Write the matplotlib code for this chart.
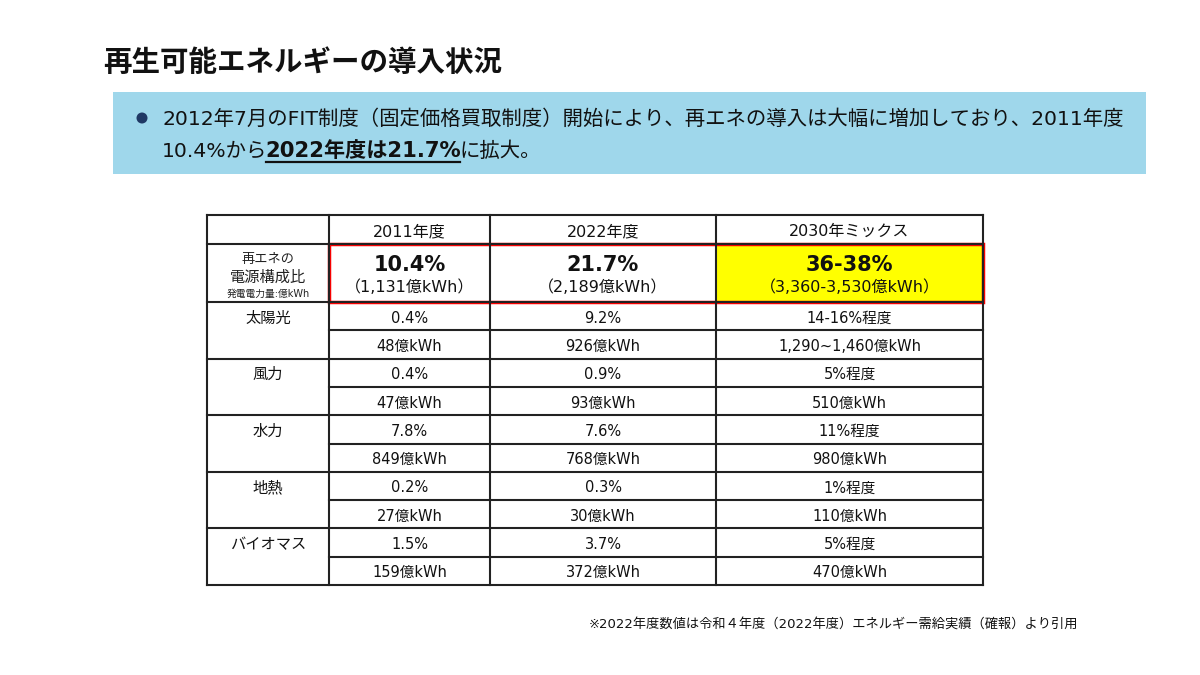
import matplotlib
matplotlib.use("Agg")
import matplotlib.pyplot as plt
from matplotlib.patches import Rectangle, Circle

# DejaVu for latin (wide, like the original), Noto CJK for the Japanese glyphs
plt.rcParams['font.family'] = ['DejaVu Sans', 'Noto Sans CJK JP']

# --- data ---
title = "再生可能エネルギーの導入状況"
summary_line1 = "2012年7月のFIT制度（固定価格買取制度）開始により、再エネの導入は大幅に増加しており、2011年度"
summary_line2 = ["10.4%から", "2022年度は21.7%", "に拡大。"]
footnote = "※2022年度数値は令和４年度（2022年度）エネルギー需給実績（確報）より引用"

years = ["2011年度", "2022年度", "2030年ミックス"]
total_share = ["10.4%", "21.7%", "36-38%"]
total_kwh = ["（1,131億kWh）", "（2,189億kWh）", "（3,360-3,530億kWh）"]
total_label = ["再エネの", "電源構成比", "発電電力量:億kWh"]

sources = ["太陽光", "風力", "水力", "地熱", "バイオマス"]
share_2011 = ["0.4%", "0.4%", "7.8%", "0.2%", "1.5%"]
share_2022 = ["9.2%", "0.9%", "7.6%", "0.3%", "3.7%"]
share_2030 = ["14-16%程度", "5%程度", "11%程度", "1%程度", "5%程度"]
kwh_2011 = ["48億kWh", "47億kWh", "849億kWh", "27億kWh", "159億kWh"]
kwh_2022 = ["926億kWh", "93億kWh", "768億kWh", "30億kWh", "372億kWh"]
kwh_2030 = ["1,290~1,460億kWh", "510億kWh", "980億kWh", "110億kWh", "470億kWh"]

# --- figure in pixel coordinates ---
fig = plt.figure(figsize=(12, 6.75), dpi=100)
ax = fig.add_axes([0, 0, 1, 1])
ax.set_xlim(0, 1200)
ax.set_ylim(675, 0)
ax.axis("off")

ax.text(103, 63, title, fontsize=20.5, fontweight="bold", va="center", ha="left", color="#111111")

# summary box
ax.add_patch(Rectangle((113, 92), 1033, 82, facecolor="#9fd7eb", edgecolor="none"))
ax.add_patch(Circle((142, 118), 5.5, facecolor="#1f3864", edgecolor="none"))
ax.text(162, 119, summary_line1, fontsize=14.7, va="center", ha="left", color="#111111")

fig.canvas.draw()
renderer = fig.canvas.get_renderer()
inv = ax.transData.inverted()
x = 162
for i, part in enumerate(summary_line2):
    bold = (i == 1)
    t = ax.text(x, 151, part, fontsize=14.7 if not bold else 15.2, va="center", ha="left",
                color="#111111", fontweight="bold" if bold else "normal")
    bb = t.get_window_extent(renderer)
    x0, _ = inv.transform((bb.x0, bb.y0))
    x1, _ = inv.transform((bb.x1, bb.y0))
    if bold:
        ax.plot([x0 + 1, x1 - 1], [162, 162], color="#111111", lw=1.6)
    x = x1 - 2

# table geometry
col_edges = [207, 329, 490, 716, 983]
header_top, header_bot, total_bot = 215, 244, 302
sub_h = (585 - total_bot) / (2 * len(sources))
centers = [(col_edges[i] + col_edges[i + 1]) / 2 for i in range(4)]
line_kw = dict(color="#222222", lw=1.5, solid_capstyle="projecting")
dy = 2  # text baseline nudge

# yellow cell
ax.add_patch(Rectangle((col_edges[3], header_bot), col_edges[4] - col_edges[3],
                       total_bot - header_bot, facecolor="#ffff00", edgecolor="none"))

table_bot = total_bot + 2 * len(sources) * sub_h
# horizontal lines
for y in [header_top, header_bot, total_bot]:
    ax.plot([col_edges[0], col_edges[-1]], [y, y], **line_kw)
for k in range(1, 2 * len(sources) + 1):
    y = total_bot + k * sub_h
    if k % 2 == 0:
        ax.plot([col_edges[0], col_edges[-1]], [y, y], **line_kw)
    else:
        ax.plot([col_edges[1], col_edges[-1]], [y, y], **line_kw)
# vertical lines
for xe in col_edges:
    ax.plot([xe, xe], [header_top, table_bot], **line_kw)

# red frame
ax.add_patch(Rectangle((col_edges[1], header_bot), col_edges[4] - col_edges[1],
                       total_bot - header_bot, facecolor="none", edgecolor="#ff0000", lw=2.5))

# header
for c, yr in zip(centers[1:], years):
    ax.text(c, (header_top + header_bot) / 2 + dy, yr, fontsize=11.5, ha="center", va="center", color="#111111")

# total row
ax.text(centers[0], 259, total_label[0], fontsize=9.5, ha="center", va="center", color="#222222")
ax.text(centers[0], 277, total_label[1], fontsize=11, ha="center", va="center", color="#222222")
ax.text(centers[0], 294, total_label[2], fontsize=7, ha="center", va="center", color="#222222")
for c, s, k in zip(centers[1:], total_share, total_kwh):
    ax.text(c, 265, s, fontsize=15, fontweight="bold", ha="center", va="center", color="#111111")
    ax.text(c, 287, k, fontsize=11.5, ha="center", va="center", color="#111111")

# source rows
for i, src in enumerate(sources):
    y1 = total_bot + (2 * i + 0.5) * sub_h + dy
    y2 = total_bot + (2 * i + 1.5) * sub_h + dy
    ax.text(centers[0], y1, src, fontsize=11, ha="center", va="center", color="#111111")
    for c, sh, kw in zip(centers[1:], [share_2011, share_2022, share_2030],
                         [kwh_2011, kwh_2022, kwh_2030]):
        ax.text(c, y1, sh[i], fontsize=10.5, ha="center", va="center", color="#111111")
        ax.text(c, y2, kw[i], fontsize=10.5, ha="center", va="center", color="#111111")

ax.text(1078, 624, footnote, fontsize=9.5, ha="right", va="center", color="#111111")

fig.savefig("out.png", dpi=100)
